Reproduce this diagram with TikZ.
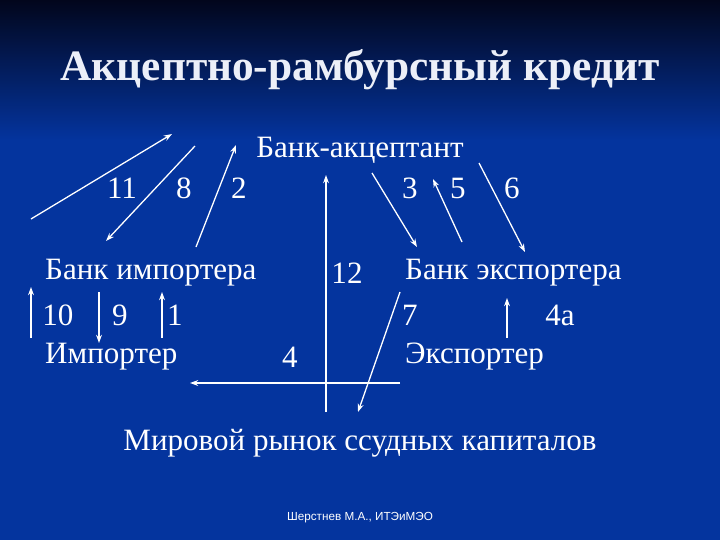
\documentclass[tikz,border=0pt]{standalone}
\usepackage{fontspec}
\setmainfont{Liberation Serif}
\newfontfamily\footfont{Liberation Sans}
\usetikzlibrary{arrows.meta}
\definecolor{slDark}{RGB}{2,6,28}
\definecolor{slBlue}{RGB}{4,52,158}
\definecolor{slTitle}{RGB}{236,239,248}
\tikzset{
    base/.style={text=white, inner sep=0pt},
    party/.style={base, font=\fontsize{26.5}{30}\selectfont, anchor=west},
    num/.style={base, font=\fontsize{26.5}{30}\selectfont},
    flow/.style={-{Stealth[length=7pt,width=5pt]}, white, line width=1.1pt}
}

\begin{document}
\begin{tikzpicture}[x=0.3mm,y=-0.3mm]
  % Background
  \fill[slBlue] (0,0) rectangle (720,540);
  \shade[top color=slDark, bottom color=slBlue] (0,0) rectangle (720,140);
  \useasboundingbox (0,0) rectangle (720,540);

  % Title
  \node[base, text=slTitle, font=\bfseries\fontsize{37}{42}\selectfont] (title) at (360,70) {Акцептно-рамбурсный кредит};

  % Parties
  \node[base, font=\fontsize{26.5}{30}\selectfont] (acc) at (360,150) {Банк-акцептант};
  \node[party] (bimp) at (45,273) {Банк импортера};
  \node[party] (imp) at (45,357) {Импортер};
  \node[party] (bexp) at (405,273) {Банк экспортера};
  \node[party] (exp) at (405,357) {Экспортер};
  \node[base, font=\fontsize{26.5}{30}\selectfont] (market) at (360,443) {Мировой рынок ссудных капиталов};
  \node[base, font=\footfont\fontsize{10}{12}\selectfont] (author) at (360,518) {Шерстнев М.А., ИТЭиМЭО};

  % Step numbers
  \node[num] (n11) at (122,188) {11};
  \node[num] (n8) at (184,188) {8};
  \node[num] (n2) at (239,188) {2};
  \node[num] (n3) at (410,188) {3};
  \node[num] (n5) at (458,188) {5};
  \node[num] (n6) at (512,188) {6};
  \node[num] (n12) at (347,273) {12};
  \node[num] (n10) at (58,315) {10};
  \node[num] (n9) at (120,315) {9};
  \node[num] (n1) at (175,315) {1};
  \node[num] (n4) at (290,357) {4};
  \node[num] (n7) at (410,315) {7};
  \node[num] (n4a) at (560,315) {4а};

  % Arrow ends
  \coordinate (a11s) at (31,219);   \coordinate (a11e) at (172,134);
  \coordinate (a8s) at (195,146);   \coordinate (a8e) at (106,241);
  \coordinate (a2s) at (196,247);   \coordinate (a2e) at (236,145);
  \coordinate (a3s) at (372,173);   \coordinate (a3e) at (417,247);
  \coordinate (a5s) at (462,242);   \coordinate (a5e) at (433,179);
  \coordinate (a6s) at (479,163);   \coordinate (a6e) at (525,252);
  \coordinate (a12s) at (326,412);  \coordinate (a12e) at (326,175);
  \coordinate (a10s) at (31,338);   \coordinate (a10e) at (31,287);
  \coordinate (a9s) at (99,292);    \coordinate (a9e) at (99,343);
  \coordinate (a1s) at (162,338);   \coordinate (a1e) at (162,292);
  \coordinate (a4s) at (400,383);   \coordinate (a4e) at (190,383);
  \coordinate (a7s) at (400,292);   \coordinate (a7e) at (358,412);
  \coordinate (a4as) at (507,338);  \coordinate (a4ae) at (507,298);

  % Flows
  \draw[flow] (a11s) -- (a11e);
  \draw[flow] (a8s) -- (a8e);
  \draw[flow] (a2s) -- (a2e);
  \draw[flow] (a3s) -- (a3e);
  \draw[flow] (a5s) -- (a5e);
  \draw[flow] (a6s) -- (a6e);
  \draw[flow] (a12s) -- (a12e);
  \draw[flow] (a10s) -- (a10e);
  \draw[flow] (a9s) -- (a9e);
  \draw[flow] (a1s) -- (a1e);
  \draw[flow] (a4s) -- (a4e);
  \draw[flow] (a7s) -- (a7e);
  \draw[flow] (a4as) -- (a4ae);
\end{tikzpicture}
\end{document}
